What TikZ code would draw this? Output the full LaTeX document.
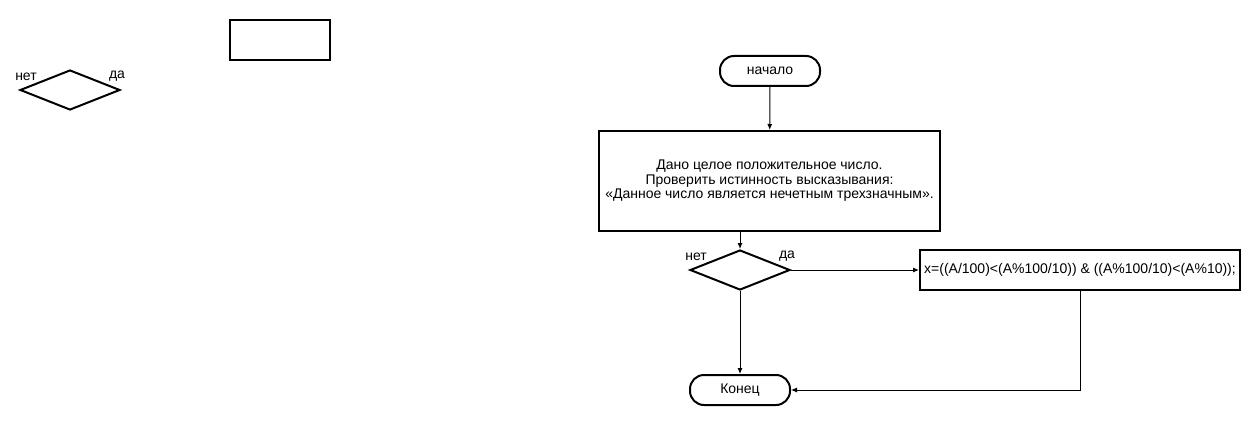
\documentclass[tikz,border=0pt]{standalone}
\usepackage{fontspec}
\setmainfont{Liberation Sans}
\usetikzlibrary{arrows.meta,shapes.geometric}

\tikzset{
  blok/.style={draw, line width=2pt, minimum width=100pt, minimum height=40pt, inner sep=0pt, align=center},
  term/.style={draw, line width=2pt, rounded corners=14pt, minimum width=100pt, minimum height=30pt, inner sep=0pt},
  vybor/.style={draw, diamond, line width=2pt, minimum width=100pt, minimum height=40pt, inner sep=0pt},
  strelka/.style={line width=1pt, -{Latex[length=6pt,width=5pt]}}
}

\begin{document}
\begin{tikzpicture}[x=1pt, y=-1pt, font=\fontsize{14}{14.5}\selectfont]
\useasboundingbox (0,0) rectangle (1260,425);

% obrazcy
\node[blok] (pustoy) at (280,40) {};
\node[vybor] (obrazec) at (70,90) {};
\node (obrNet) at (26,76.5) {нет};
\node (obrDa) at (117,76.5) {да};

% skhema
\node[term] (nachalo) at (770,71) {начало};
\node[blok, minimum width=341pt, minimum height=100pt] (uslovie) at (769.5,181)
  {Дано целое положительное число.\\Проверить истинность высказывания:\\«Данное число является нечетным трехзначным».};
\node[vybor] (proverka) at (740,270) {};
\node (net) at (696,256.5) {нет};
\node (da) at (787,256.5) {да};
\node[blok, minimum width=320pt] (formula) at (1080,270) {x=((A/100)<(A\%100/10)) \& ((A\%100/10)<(A\%10));};
\node[term] (konec) at (740,390) {Конец};
\coordinate (povorot) at (1080,390);

\draw[strelka] (nachalo) -- (uslovie);
\draw[strelka] (uslovie.south -| proverka.north) -- (proverka.north);
\draw[strelka] (proverka.east) -- (formula.west);
\draw[strelka] (proverka.south) -- (konec.north);
\draw[strelka] (formula.south -| povorot) -- (povorot) -- (konec.east);

\end{tikzpicture}
\end{document}
